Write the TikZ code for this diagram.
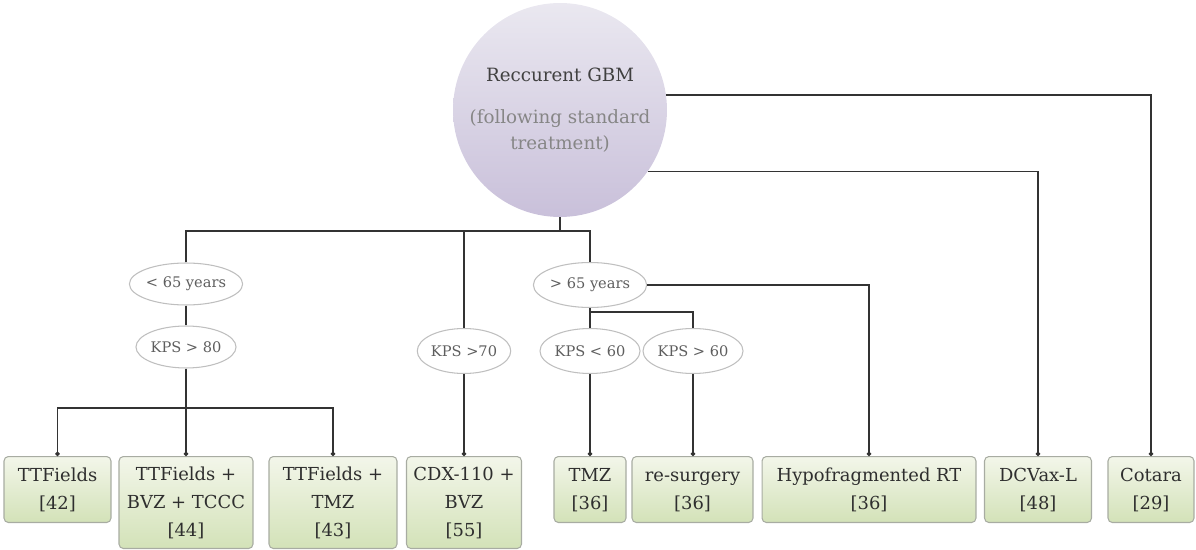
\documentclass[tikz,border=0pt]{standalone}
\usepackage{fontspec}
\setmainfont{DejaVu Serif}
\usetikzlibrary{shapes.geometric,arrows.meta}
\definecolor{lnc}{HTML}{333333}
\definecolor{boxtop}{HTML}{F3F6EA}
\definecolor{boxbot}{HTML}{D3E2B8}
\definecolor{boxdraw}{HTML}{A8ACA2}
\definecolor{ellc}{HTML}{BFBFBF}
\definecolor{elltxt}{HTML}{5E5E5E}
\definecolor{circtop}{HTML}{EAE8F0}
\definecolor{circbot}{HTML}{C9C0DA}
\tikzset{
  conn/.style={draw=lnc, line width=0.9pt},
  dotend/.style={conn, -{Circle[length=2.4pt]}},
  treat/.style={draw=boxdraw, line width=0.6pt, rounded corners=2.5pt,
    top color=boxtop, bottom color=boxbot, anchor=north, align=center,
    inner sep=0pt, text=black!82, font=\fontsize{10.2}{16}\selectfont},
  cond/.style={ellipse, draw=ellc, fill=white, line width=0.6pt, inner sep=0pt,
    text=elltxt, font=\fontsize{8.3}{10}\selectfont},
}
\begin{document}
\begin{tikzpicture}[x=0.02cm,y=-0.02cm]
\useasboundingbox (0,0) rectangle (1196,550);
% root
\node[circle, minimum size=4.28cm, inner sep=0pt, top color=circtop, bottom color=circbot,
  align=center, font=\fontsize{10.4}{15}\selectfont] (root) at (560,110)
  {\textcolor[HTML]{404040}{Reccurent GBM}\\[9pt]\textcolor[HTML]{868686}{(following standard}\\\textcolor[HTML]{868686}{treatment)}};
% conditions
\node[cond, minimum width=2.12cm, minimum height=0.84cm] (a65) at (186,284) {< 65 years};
\node[cond, minimum width=1.96cm, minimum height=0.84cm] (k80) at (186,347) {KPS > 80};
\node[cond, minimum width=1.84cm, minimum height=0.90cm] (k70) at (464,351) {KPS >70};
\node[cond, minimum width=2.14cm, minimum height=0.90cm] (g65) at (590,285) {> 65 years};
\node[cond, minimum width=1.90cm, minimum height=0.90cm] (kl60) at (590,351) {KPS < 60};
\node[cond, minimum width=1.94cm, minimum height=0.90cm] (kg60) at (693,351) {KPS > 60};
% treatments
\node[treat, minimum width=2.14cm, minimum height=1.32cm] (b1) at (57.5,456) {TTFields\strut\\{[42]}\strut};
\node[treat, minimum width=2.68cm, minimum height=1.84cm] (b2) at (186,456) {TTFields +\strut\\BVZ + TCCC\strut\\{[44]}\strut};
\node[treat, minimum width=2.56cm, minimum height=1.84cm] (b3) at (333,456) {TTFields +\strut\\TMZ\strut\\{[43]}\strut};
\node[treat, minimum width=2.30cm, minimum height=1.84cm] (b4) at (464,456) {CDX-110 +\strut\\BVZ\strut\\{[55]}\strut};
\node[treat, minimum width=1.44cm, minimum height=1.32cm] (b5) at (590,456) {TMZ\strut\\{[36]}\strut};
\node[treat, minimum width=2.42cm, minimum height=1.32cm] (b6) at (692.5,456) {re-surgery\strut\\{[36]}\strut};
\node[treat, minimum width=4.28cm, minimum height=1.32cm] (b7) at (869,456) {Hypofragmented RT\strut\\{[36]}\strut};
\node[treat, minimum width=2.14cm, minimum height=1.32cm] (b8) at (1038,456) {DCVax-L\strut\\{[48]}\strut};
\node[treat, minimum width=1.72cm, minimum height=1.32cm] (b9) at (1151,456) {Cotara\strut\\{[29]}\strut};
% junctions
\coordinate (j1) at (560,231);
\coordinate (j2) at (186,408);
\coordinate (j3) at (590,312);
% connectors
\draw[dotend] (root.8.57) -| (b9.north);
\draw[dotend] (root.-35.28) -| (b8.north);
\draw[conn] (root.south) -- (j1);
\draw[conn] (a65.north) |- (j1) -| (g65.north);
\draw[conn] (k70.north) -- (k70.north |- j1);
\draw[conn] (a65.south) -- (k80.north);
\draw[conn] (k80.south) -- (j2);
\draw[dotend] (j2) -| (b1.north);
\draw[dotend] (j2) -- (b2.north);
\draw[dotend] (j2) -| (b3.north);
\draw[dotend] (k70.south) -- (b4.north);
\draw[dotend] (g65.east) -| (b7.north);
\draw[conn] (g65.south) -- (j3);
\draw[conn] (j3) -- (kl60.north);
\draw[conn] (j3) -| (kg60.north);
\draw[dotend] (kl60.south) -- (b5.north);
\draw[dotend] (kg60.south) -- (kg60.south |- b6.north);
\end{tikzpicture}
\end{document}
